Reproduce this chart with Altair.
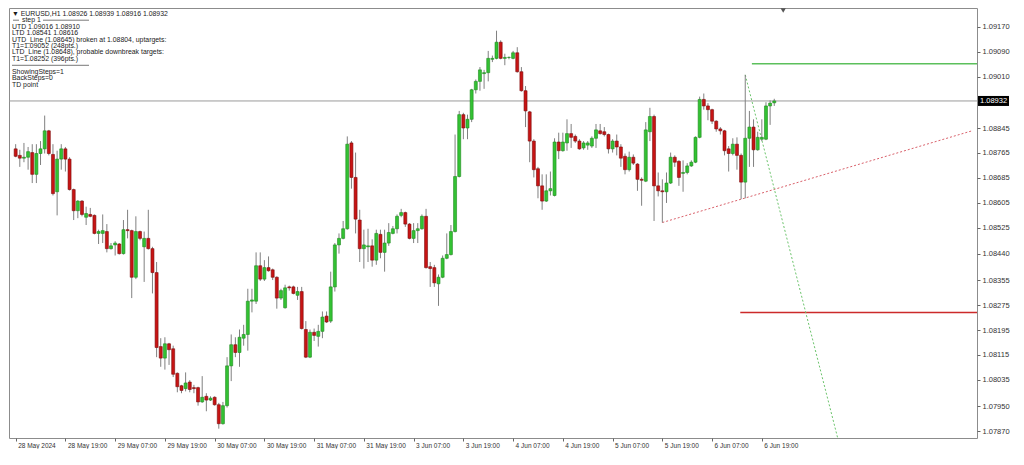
import altair as alt
import pandas as pd

# ---------------- data (EURUSD H1) ----------------
opens = [1.08778,1.08757,1.08748,1.08751,1.08766,1.08696,1.08763,1.08778,1.08836,1.08760,
         1.08640,1.08745,1.08778,1.08745,1.08647,1.08579,1.08610,1.08558,1.08567,1.08564,
         1.08506,1.08506,1.08512,1.08457,1.08469,1.08472,1.08441,1.08518,1.08515,1.08365,
         1.08512,1.08463,1.08490,1.08457,1.08380,1.08142,1.08105,1.08151,1.08135,1.08056,
         1.08016,1.08007,1.08028,1.08010,1.08010,1.07964,1.07982,1.07970,1.07979,1.07955,
         1.07894,1.07952,1.08080,1.08148,1.08123,1.08169,1.08181,1.08288,1.08288,1.08402,
         1.08359,1.08396,1.08389,1.08365,1.08298,1.08267,1.08334,1.08334,1.08307,1.08319,
         1.08197,1.08108,1.08188,1.08175,1.08191,1.08240,1.08224,1.08334,1.08469,1.08490,
         1.08521,1.08797,1.08686,1.08549,1.08457,1.08463,1.08466,1.08420,1.08503,1.08445,
         1.08475,1.08506,1.08521,1.08564,1.08573,1.08536,1.08490,1.08515,1.08521,1.08561,
         1.08399,1.08396,1.08344,1.08365,1.08426,1.08438,1.08512,1.08689,1.08888,1.08845,
         1.08873,1.08968,1.08995,1.09020,1.09023,1.09066,1.09069,1.09121,1.09069,1.09072,
         1.09069,1.09087,1.09026,1.08965,1.08897,1.08803,1.08714,1.08659,1.08610,1.08643,
         1.08628,1.08800,1.08772,1.08797,1.08827,1.08818,1.08803,1.08781,1.08790,1.08787,
         1.08812,1.08836,1.08833,1.08824,1.08778,1.08803,1.08784,1.08754,1.08711,1.08751,
         1.08729,1.08680,1.08674,1.08833,1.08882,1.08659,1.08643,1.08640,1.08668,1.08751,
         1.08738,1.08699,1.08702,1.08723,1.08735,1.08815,1.08937,1.08916,1.08904,1.08867,
         1.08842,1.08836,1.08778,1.08763,1.08793,1.08757,1.08671,1.08812,1.08848,1.08775,
         1.08809,1.08809,1.08916,1.08926]
highs = [1.08793,1.08775,1.08797,1.08784,1.08793,1.08793,1.08803,1.08885,1.08839,1.08793,
         1.08772,1.08793,1.08784,1.08751,1.08650,1.08613,1.08613,1.08592,1.08588,1.08567,
         1.08518,1.08567,1.08536,1.08475,1.08481,1.08475,1.08549,1.08582,1.08518,1.08561,
         1.08515,1.08512,1.08582,1.08463,1.08414,1.08169,1.08172,1.08154,1.08145,1.08059,
         1.08019,1.08059,1.08034,1.08019,1.08013,1.08047,1.07992,1.07982,1.07982,1.07961,
         1.07964,1.08108,1.08181,1.08172,1.08197,1.08212,1.08328,1.08328,1.08445,1.08445,
         1.08420,1.08432,1.08393,1.08368,1.08328,1.08341,1.08338,1.08338,1.08334,1.08334,
         1.08224,1.08197,1.08200,1.08212,1.08255,1.08255,1.08383,1.08475,1.08506,1.08546,
         1.08818,1.08803,1.08766,1.08582,1.08518,1.08521,1.08487,1.08518,1.08518,1.08518,
         1.08539,1.08530,1.08567,1.08585,1.08576,1.08539,1.08539,1.08539,1.08567,1.08585,
         1.08414,1.08405,1.08374,1.08435,1.08506,1.08533,1.08824,1.08900,1.08894,1.08888,
         1.08971,1.09001,1.09041,1.09032,1.09093,1.09078,1.09158,1.09127,1.09084,1.09075,
         1.09093,1.09105,1.09041,1.08980,1.08900,1.08809,1.08720,1.08696,1.08696,1.08705,
         1.08812,1.08830,1.08830,1.08873,1.08858,1.08824,1.08809,1.08803,1.08803,1.08818,
         1.08858,1.08858,1.08848,1.08827,1.08809,1.08824,1.08793,1.08763,1.08769,1.08760,
         1.08732,1.08686,1.08864,1.08910,1.08888,1.08702,1.08680,1.08702,1.08766,1.08757,
         1.08741,1.08741,1.08732,1.08741,1.08818,1.08946,1.08956,1.08925,1.08907,1.08870,
         1.08848,1.08839,1.08787,1.08812,1.08815,1.08763,1.09016,1.08900,1.08873,1.08833,
         1.08873,1.08928,1.08934,1.08939]
lows = [1.08751,1.08720,1.08735,1.08711,1.08668,1.08668,1.08726,1.08763,1.08757,1.08628,
        1.08564,1.08711,1.08705,1.08644,1.08549,1.08555,1.08561,1.08533,1.08558,1.08503,
        1.08472,1.08475,1.08445,1.08454,1.08435,1.08438,1.08438,1.08490,1.08298,1.08359,
        1.08484,1.08350,1.08454,1.08313,1.08108,1.08077,1.08068,1.08083,1.08044,1.07995,
        1.07992,1.07998,1.07995,1.07992,1.07952,1.07961,1.07934,1.07967,1.07952,1.07878,
        1.07891,1.07946,1.08031,1.08108,1.08077,1.08145,1.08129,1.08252,1.08279,1.08353,
        1.08353,1.08383,1.08356,1.08264,1.08292,1.08264,1.08322,1.08310,1.08292,1.08197,
        1.08105,1.08105,1.08160,1.08142,1.08169,1.08218,1.08218,1.08319,1.08441,1.08487,
        1.08518,1.08650,1.08506,1.08414,1.08393,1.08414,1.08399,1.08405,1.08426,1.08383,
        1.08466,1.08503,1.08506,1.08558,1.08527,1.08487,1.08475,1.08475,1.08518,1.08393,
        1.08334,1.08334,1.08273,1.08362,1.08423,1.08435,1.08509,1.08686,1.08809,1.08809,
        1.08864,1.08956,1.08965,1.08971,1.08995,1.09057,1.09066,1.09066,1.09047,1.09066,
        1.09066,1.09023,1.08962,1.08848,1.08735,1.08686,1.08619,1.08582,1.08607,1.08628,
        1.08625,1.08745,1.08769,1.08772,1.08781,1.08797,1.08775,1.08775,1.08775,1.08781,
        1.08781,1.08824,1.08818,1.08763,1.08766,1.08757,1.08720,1.08696,1.08705,1.08726,
        1.08643,1.08595,1.08671,1.08803,1.08546,1.08625,1.08541,1.08604,1.08665,1.08720,
        1.08659,1.08640,1.08696,1.08720,1.08732,1.08812,1.08904,1.08870,1.08858,1.08833,
        1.08824,1.08757,1.08705,1.08757,1.08711,1.08616,1.08619,1.08720,1.08720,1.08772,
        1.08803,1.08806,1.08855,1.08916]
closes = [1.08754,1.08748,1.08751,1.08769,1.08696,1.08763,1.08778,1.08836,1.08763,1.08634,
          1.08745,1.08778,1.08745,1.08647,1.08579,1.08610,1.08567,1.08570,1.08561,1.08506,
          1.08512,1.08515,1.08457,1.08466,1.08475,1.08441,1.08518,1.08515,1.08365,1.08512,
          1.08490,1.08490,1.08457,1.08380,1.08139,1.08105,1.08151,1.08132,1.08053,1.08013,
          1.08001,1.08025,1.08004,1.08007,1.07964,1.07979,1.07970,1.07976,1.07955,1.07894,
          1.07952,1.08080,1.08148,1.08123,1.08172,1.08181,1.08288,1.08292,1.08402,1.08359,
          1.08396,1.08386,1.08365,1.08298,1.08322,1.08331,1.08331,1.08313,1.08319,1.08200,
          1.08108,1.08188,1.08178,1.08191,1.08237,1.08221,1.08334,1.08469,1.08490,1.08521,
          1.08793,1.08686,1.08552,1.08457,1.08469,1.08466,1.08420,1.08506,1.08445,1.08475,
          1.08509,1.08521,1.08561,1.08573,1.08536,1.08490,1.08515,1.08521,1.08561,1.08396,
          1.08393,1.08347,1.08365,1.08426,1.08438,1.08512,1.08689,1.08888,1.08845,1.08873,
          1.08968,1.08995,1.09032,1.09023,1.09069,1.09069,1.09121,1.09069,1.09072,1.09072,
          1.09087,1.09026,1.08965,1.08900,1.08803,1.08711,1.08659,1.08610,1.08643,1.08650,
          1.08800,1.08772,1.08800,1.08827,1.08815,1.08803,1.08778,1.08797,1.08797,1.08812,
          1.08839,1.08827,1.08824,1.08778,1.08803,1.08784,1.08748,1.08711,1.08751,1.08732,
          1.08680,1.08677,1.08839,1.08882,1.08659,1.08643,1.08640,1.08668,1.08751,1.08735,
          1.08686,1.08702,1.08723,1.08735,1.08815,1.08937,1.08916,1.08904,1.08867,1.08842,
          1.08836,1.08772,1.08763,1.08793,1.08757,1.08671,1.08812,1.08848,1.08775,1.08815,
          1.08815,1.08916,1.08925,1.08932]

x_tick_bars = [0, 12, 24, 36, 48, 60, 72, 84, 96, 108, 120, 132, 144, 156, 168, 180]
x_tick_labels = ["28 May 2024", "28 May 19:00", "29 May 07:00", "29 May 19:00",
                 "30 May 07:00", "30 May 19:00", "31 May 07:00", "31 May 19:00",
                 "3 Jun 07:00", "3 Jun 19:00", "4 Jun 07:00", "4 Jun 19:00",
                 "5 Jun 07:00", "5 Jun 19:00", "6 Jun 07:00", "6 Jun 19:00"]
y_tick_values = [1.09170, 1.09090, 1.09010, 1.08845, 1.08765, 1.08685, 1.08605, 1.08525,
                 1.08440, 1.08355, 1.08275, 1.08195, 1.08115, 1.08035, 1.07950, 1.07870]
current_price = 1.08932

# trend lines (bar index, price)
ltd_bars = [156, 230.7]
ltd_prices = [1.08541, 1.08836]
utd_bars = [176, 198.3]
utd_prices = [1.09016, 1.07848]
up_target_start_bar = 177.6
up_target_price = 1.09052
down_target_start_bar = 174.8
down_target_price = 1.08252

info_lines = ["\u25bc EURUSD,H1  1.08926 1.08939 1.08916 1.08932",
              "step 1",
              "UTD 1.09016  1.08910",
              "LTD  1.08541  1.08616",
              "UTD_Line (1.08645) broken at 1.08804, uptargets:",
              "T1=1.09052 (248pts.)",
              "LTD_Line (1.08648), probable downbreak targets:",
              "T1=1.08252 (396pts.)",
              "",
              "ShowingSteps=1",
              "BackSteps=0",
              "TD point"]

# ---------------- layout ----------------
W, H = 968, 430
XDOM = [-0.4, 230.7]
YDOM = [1.07848, 1.09231]
GREEN, GREEN_EDGE = "#33c233", "#1f8a1f"
RED, RED_EDGE = "#c81414", "#7a0c0c"
FONT = "Liberation Sans"

df = pd.DataFrame({"bar": list(range(len(opens))), "open": opens, "high": highs,
                   "low": lows, "close": closes})

xs = alt.Scale(domain=XDOM, nice=False, zero=False)
ys = alt.Scale(domain=YDOM, nice=False, zero=False)

label_js = "[" + ",".join("'" + s + "'" for s in x_tick_labels) + "]"
x_axis = alt.Axis(values=x_tick_bars, labelExpr=label_js + "[round(datum.value/12)]",
                  title=None, grid=False, domain=False, tickSize=3, tickColor="#666",
                  labelAlign="left", labelFontSize=6.5, labelFont=FONT, labelColor="#333",
                  labelPadding=1, labelOffset=2, labelOverlap=False, labelFlush=False)
y_axis = alt.Axis(orient="right", values=y_tick_values, format=".5f", title=None,
                  grid=False, domain=False, tickSize=3, tickColor="#666",
                  labelFontSize=7.5, labelFont=FONT, labelColor="#333", labelPadding=2,
                  labelOverlap=False, labelFlush=False)


def X(f):
    return alt.X(f, type="quantitative", scale=xs, axis=x_axis)


def Y(f):
    return alt.Y(f, type="quantitative", scale=ys, axis=y_axis)


up = "datum.close >= datum.open"

wicks = alt.Chart(df).mark_rule(color="#808080", strokeWidth=1).encode(
    x=X("bar"), y=Y("low"), y2="high")

bodies = alt.Chart(df).mark_bar(size=3, strokeWidth=0.6).encode(
    x=X("bar"), y=Y("open"), y2="close",
    fill=alt.condition(up, alt.value(GREEN), alt.value(RED)),
    stroke=alt.condition(up, alt.value(GREEN_EDGE), alt.value(RED_EDGE)))

price_df = pd.DataFrame({"price": [current_price], "label": [f"{current_price:.5f}"]})
price_line = alt.Chart(price_df).mark_rule(color="#9a9a9a", strokeWidth=1).encode(
    y=Y("price"))
price_box = alt.Chart(price_df).mark_rect(color="black", yOffset=-5, y2Offset=5).encode(
    x=alt.value(W + 1), x2=alt.value(W + 32), y=Y("price"), y2="price")
price_text = alt.Chart(price_df).mark_text(
    align="left", baseline="middle", color="white", font=FONT, fontSize=7.5).encode(
    x=alt.value(W + 3), y=Y("price"), text="label")

up_df = pd.DataFrame({"start": [up_target_start_bar], "price": [up_target_price]})
down_df = pd.DataFrame({"start": [down_target_start_bar], "price": [down_target_price]})
up_line = alt.Chart(up_df).mark_rule(strokeWidth=1.5, color="#5cc05c").encode(
    x=X("start"), x2=alt.value(W), y=Y("price"))
down_line = alt.Chart(down_df).mark_rule(strokeWidth=1.5, color="#cc2a2a").encode(
    x=X("start"), x2=alt.value(W), y=Y("price"))

ltd_df = pd.DataFrame({"bar": ltd_bars, "price": ltd_prices})
utd_df = pd.DataFrame({"bar": utd_bars, "price": utd_prices})
ltd_line = alt.Chart(ltd_df).mark_line(strokeDash=[2, 2], strokeWidth=1, clip=True,
                                       color="#d9606a").encode(x=X("bar"), y=Y("price"))
utd_line = alt.Chart(utd_df).mark_line(strokeDash=[2, 2], strokeWidth=1, clip=True,
                                       color="#6cc46c").encode(x=X("bar"), y=Y("price"))

info_df = pd.DataFrame({"text": info_lines,
                        "ypx": [5.7 + 6.45 * i for i in range(len(info_lines))],
                        "xpx": [3 if s != "step 1" else 13 for s in info_lines]})
info_text = alt.Chart(info_df).mark_text(
    align="left", baseline="middle", font=FONT, fontSize=6.9, color="#1a1a1a").encode(
    x=alt.X("xpx:Q", scale=None), y=alt.Y("ypx:Q", scale=None), text="text")

sep_a = alt.Chart(price_df).mark_rule(color="#555", strokeWidth=0.8).encode(
    x=alt.value(4), x2=alt.value(10), y=alt.value(12.2))
sep_b = alt.Chart(price_df).mark_rule(color="#555", strokeWidth=0.8).encode(
    x=alt.value(34), x2=alt.value(80), y=alt.value(12.2))
sep_c = alt.Chart(price_df).mark_rule(color="#555", strokeWidth=0.8).encode(
    x=alt.value(3), x2=alt.value(80), y=alt.value(57.3))

shift_marker = alt.Chart(price_df).mark_point(
    shape="triangle-down", filled=True, size=28, color="#555", opacity=1).encode(
    x=alt.value(791 * W / 989), y=alt.value(2.5))

chart = alt.layer(
    price_line, up_line, down_line, ltd_line, utd_line, wicks, bodies, price_box,
    price_text, info_text, sep_a, sep_b, sep_c, shift_marker
).properties(width=W, height=H, padding=0, background="white").configure_view(
    stroke="#8c8c8c", strokeWidth=1)

chart.save("out.html", embed_options={"renderer": "svg", "actions": False})
